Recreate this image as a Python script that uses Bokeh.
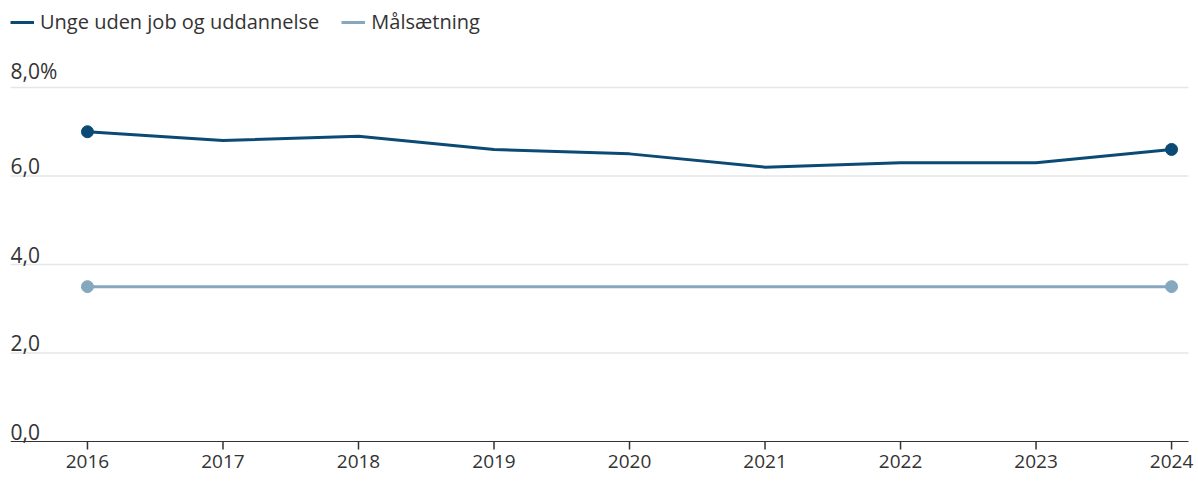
from bokeh.plotting import figure
from bokeh.models import Range1d, Legend, LegendItem
from bokeh.core.properties import value
from bokeh.embed import file_html
from bokeh.resources import INLINE

years = [2016, 2017, 2018, 2019, 2020, 2021, 2022, 2023, 2024]
neet = [7.0, 6.8, 6.9, 6.6, 6.5, 6.2, 6.3, 6.3, 6.6]
target = [3.5, 3.5, 3.5, 3.5, 3.5, 3.5, 3.5, 3.5, 3.5]
y_ticks = [0, 2, 4, 6, 8]
y_labels = ["0,0", "2,0", "4,0", "6,0", "8,0%"]
x_labels = [str(y) for y in years]
series_names = ["Unge uden job og uddannelse", "Målsætning"]

DARK = "#0b4a74"
LIGHT = "#86a8bf"
TXT = "#333333"
FONT = "Open Sans"
FS = "20px"

FRAME_H = 472
Y0, Y1 = -0.881, 9.785
px_per_unit = FRAME_H / (Y1 - Y0)
X0, X_GRID_END, X1 = 2015.432, 2024.125, 2024.1988

p = figure(frame_width=1188, frame_height=FRAME_H,
           x_range=Range1d(X0, X1), y_range=Range1d(Y0, Y1),
           output_backend="svg", toolbar_location=None,
           min_border_left=10, min_border_right=0, min_border_top=8, min_border_bottom=0)
p.outline_line_color = None
p.background_fill_color = "white"
p.xaxis.visible = False
p.yaxis.visible = False
p.xgrid.grid_line_color = None
p.ygrid.grid_line_color = None

# gridlines
g = y_ticks[1:]
p.segment(x0=[X0] * len(g), y0=g, x1=[X_GRID_END] * len(g), y1=g,
          line_color="#e6e6e6", line_width=1.5)

# x axis drawn in the frame
p.segment(x0=[X0], y0=[0], x1=[X_GRID_END], y1=[0], line_color=TXT, line_width=1.2)
tick_len = 8 / px_per_unit
p.segment(x0=years, y0=[0] * len(years), x1=years, y1=[-tick_len] * len(years),
          line_color=TXT, line_width=1.5)
p.text(x=years, y=[0] * len(years), text=x_labels, text_font=value(FONT),
       text_font_size="19px", text_color=TXT, text_align="center",
       text_baseline="top", y_offset=13)

# y labels as text
p.text(x=[X0] * len(y_ticks), y=y_ticks, text=y_labels, text_font=value(FONT),
       text_font_size="21px", text_color=TXT, text_baseline="bottom",
       text_align="left", y_offset=-2)

r1 = p.line(years, neet, line_color=DARK, line_width=3)
r2 = p.line(years, target, line_color=LIGHT, line_width=3)
p.scatter([years[0], years[-1]], [neet[0], neet[-1]], size=12, color=DARK)
p.scatter([years[0], years[-1]], [target[0], target[-1]], size=12, color=LIGHT)

legend = Legend(items=[LegendItem(label=series_names[0], renderers=[r1]),
                       LegendItem(label=series_names[1], renderers=[r2])],
                location="top_left", orientation="horizontal",
                margin=0, padding=4, spacing=22,
                glyph_width=24, glyph_height=22, label_standoff=6,
                label_text_font=FONT, label_text_font_size=FS,
                label_text_color=TXT, background_fill_alpha=0, border_line_color=None)
p.add_layout(legend)

open("out.html", "w").write(file_html(p, INLINE))
